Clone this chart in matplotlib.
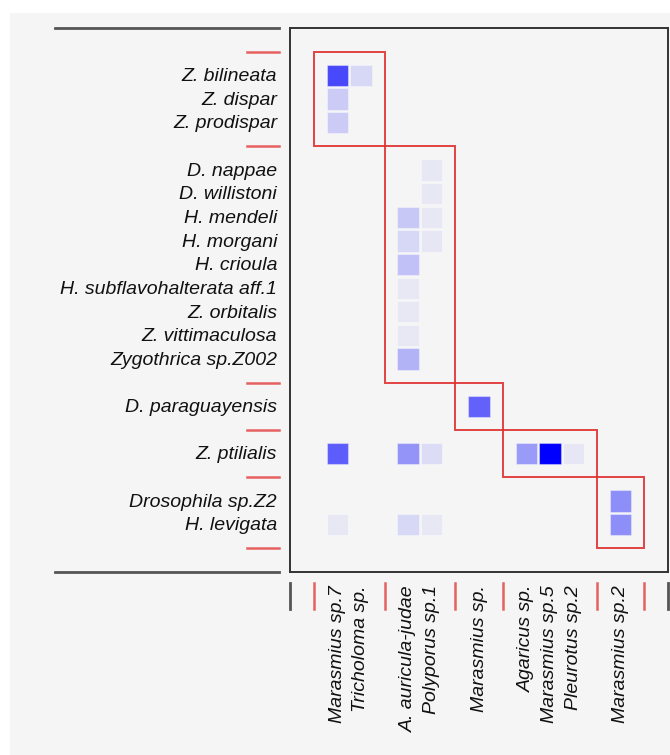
import numpy as np
import matplotlib
matplotlib.use("Agg")
import matplotlib.pyplot as plt
from matplotlib.patches import Rectangle

# Data
flies = ["Z. bilineata", "Z. dispar", "Z. prodispar",
         "D. nappae", "D. willistoni", "H. mendeli", "H. morgani", "H. crioula",
         "H. subflavohalterata aff.1", "Z. orbitalis", "Z. vittimaculosa", "Zygothrica sp.Z002",
         "D. paraguayensis",
         "Z. ptilialis",
         "Drosophila sp.Z2", "H. levigata"]
fungi = ["Marasmius sp.7", "Tricholoma sp.",
         "A. auricula-judae", "Polyporus sp.1",
         "Marasmius sp.",
         "Agaricus sp.", "Marasmius sp.5", "Pleurotus sp.2",
         "Marasmius sp.2"]
row_modules = [3, 9, 1, 1, 2]
col_modules = [2, 2, 1, 3, 1]

# interaction strength (0..1), rows = flies, cols = fungi
weights = np.array([
    [0.70, 0.12, 0,    0,    0,    0,    0,    0,    0],
    [0.17, 0,    0,    0,    0,    0,    0,    0,    0],
    [0.17, 0,    0,    0,    0,    0,    0,    0,    0],
    [0,    0,    0,    0.05, 0,    0,    0,    0,    0],
    [0,    0,    0,    0.05, 0,    0,    0,    0,    0],
    [0,    0,    0.18, 0.05, 0,    0,    0,    0,    0],
    [0,    0,    0.12, 0.06, 0,    0,    0,    0,    0],
    [0,    0,    0.21, 0,    0,    0,    0,    0,    0],
    [0,    0,    0.05, 0,    0,    0,    0,    0,    0],
    [0,    0,    0.05, 0,    0,    0,    0,    0,    0],
    [0,    0,    0.05, 0,    0,    0,    0,    0,    0],
    [0,    0,    0.27, 0,    0,    0,    0,    0,    0],
    [0,    0,    0,    0,    0.60, 0,    0,    0,    0],
    [0.62, 0,    0.40, 0.10, 0,    0.37, 1.00, 0.06, 0],
    [0,    0,    0,    0,    0,    0,    0,    0,    0.42],
    [0.05, 0,    0.12, 0.05, 0,    0,    0,    0,    0.42],
])


def layout(sizes):
    # positions of items and module borders, one empty slot between modules
    pos, borders = [], [1]
    b = 1
    for n in sizes:
        pos.extend(range(b + 1, b + n + 1))
        b = b + n + 1
        borders.append(b)
    return np.array(pos), borders


def main():
    bg = "#f5f5f5"
    red = "#e03030"
    font = dict(family="Liberation Sans", style="italic", fontsize=14)

    ypos, yb = layout(row_modules)
    xpos, xb = layout(col_modules)
    ymax = yb[-1] + 1
    xmax = xb[-1] + 1

    fig = plt.figure(figsize=(6.7, 7.55), dpi=100, facecolor="white")
    fig.patches.append(Rectangle((10 / 670, 0), 1, 1 - 13 / 755, transform=fig.transFigure,
                                 facecolor=bg, edgecolor="none", zorder=-10))
    ax = fig.add_axes([290 / 670, 1 - 572 / 755, 378 / 670, 544 / 755])
    ax.set_facecolor(bg)
    ax.set_xlim(0, xmax)
    ax.set_ylim(ymax, 0)
    ax.set_xticks([])
    ax.set_yticks([])
    for s in ax.spines.values():
        s.set_color("#333333")
        s.set_linewidth(1.4)

    # cells
    for i in range(len(flies)):
        for j in range(len(fungi)):
            w = weights[i, j]
            if w <= 0:
                continue
            ax.add_patch(Rectangle((xpos[j] - 0.45, ypos[i] - 0.45), 0.9, 0.9,
                                   facecolor=(0, 0, 1, w), edgecolor=(1, 1, 1, 0.35),
                                   linewidth=0.8))

    # modules
    for k in range(len(row_modules)):
        ax.add_patch(Rectangle((xb[k], yb[k]), xb[k + 1] - xb[k], yb[k + 1] - yb[k],
                               fill=False, edgecolor=red, linewidth=1.4, alpha=0.9))

    # left side marks
    for y in yb:
        ax.plot([-1.8, -0.47], [y, y], color=red, lw=1.8, alpha=0.75, clip_on=False)
    for y in [0, ymax]:
        ax.plot([-9.95, -0.47], [y, y], color="#555555", lw=2, clip_on=False)
    # bottom marks
    for x in xb:
        ax.plot([x, x], [ymax + 0.47, ymax + 1.55], color=red, lw=1.8, alpha=0.75, clip_on=False)
    for x in [0, xmax]:
        ax.plot([x, x], [ymax + 0.47, ymax + 1.55], color="#555555", lw=2, clip_on=False)

    for name, y in zip(flies, ypos):
        ax.text(-0.55, y + 0.05, name, ha="right", va="center", color="#111111", **font)
    for name, x in zip(fungi, xpos):
        ax.text(x, ymax + 0.55, name, ha="center", va="top", rotation=90,
                color="#111111", **font)

    fig.savefig("out.png", dpi=100, facecolor=fig.get_facecolor())


if __name__ == "__main__":
    main()
